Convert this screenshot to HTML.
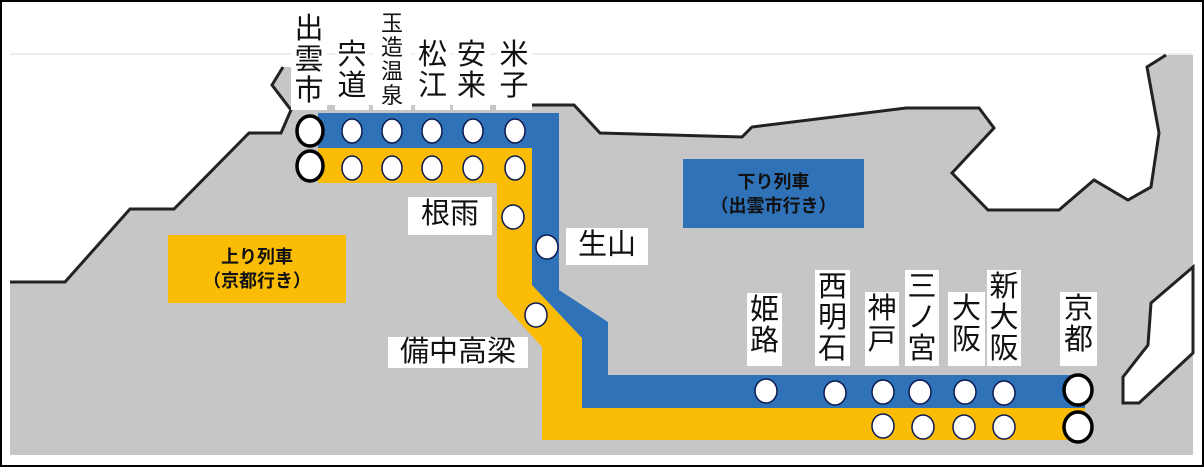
<!DOCTYPE html>
<html><head><meta charset="utf-8"><style>
html,body{margin:0;padding:0;background:#fff}
#w{position:relative;width:1204px;height:467px;overflow:hidden;font-family:"Liberation Sans","Noto Sans CJK JP",sans-serif}
.l{position:absolute;background:#fff;text-align:center;font-size:29px;line-height:31px;color:#111;box-sizing:border-box;padding-top:2px}
.b{position:absolute;font-weight:bold;font-size:18px;line-height:24px;text-align:center;display:flex;align-items:center;justify-content:center;color:#111}
</style></head><body><div id="w">
<svg width="1204" height="467" style="position:absolute;left:0;top:0">
<line x1="10" y1="54" x2="1192" y2="54" stroke="#ddd" stroke-width="1"/>
<polygon fill="#c6c6c6" points="10,282 65,282 130,209 174,209 249,133 281,133 291,110 272,85 283,67 300,67 300,105 532,105 574,105 600,133 742,137 752,127 906,108 979,108 994,128 952,173 988,210 1059,210 1094,180 1128,200 1151,187 1159,133 1147,67 1166,55 1193,55 1193,455 10,455"/>
<polyline fill="none" stroke="#222" stroke-width="3" points="10,282 65,282 130,209 174,209 249,133 281,133 291,110 272,85 283,67"/>
<polyline fill="none" stroke="#222" stroke-width="3" points="532,105 574,105 600,133 742,137 752,127 906,108 979,108 994,128 952,173 988,210 1059,210 1094,180 1128,200 1151,187 1159,133 1147,67 1166,55"/>
<polygon fill="#fff" stroke="#222" stroke-width="3" points="1193,267 1151,303 1148,345 1123,377 1123,403 1139,403 1193,353"/>
<polygon fill="#fbbc06" points="318,148 532,148 532,285 582,338 582,408 1085,408 1085,440 542,440 542,347 497,297 497,183 318,183"/>
<polygon fill="#2f72b8" points="318,113 559,113 559,290 608,322 608,375 1085,375 1085,408 582,408 582,338 532,285 532,148 318,148"/>
<g fill="#fff" stroke="#0d1a50" stroke-width="1.5">
<ellipse cx="352" cy="131" rx="10" ry="12"/><ellipse cx="392" cy="131" rx="10" ry="12"/><ellipse cx="432" cy="131" rx="10" ry="12"/><ellipse cx="473" cy="131" rx="10" ry="12"/><ellipse cx="515" cy="131" rx="10" ry="12"/>
<ellipse cx="352" cy="168" rx="10" ry="12"/><ellipse cx="392" cy="168" rx="10" ry="12"/><ellipse cx="432" cy="168" rx="10" ry="12"/><ellipse cx="473" cy="168" rx="10" ry="12"/><ellipse cx="515" cy="168" rx="10" ry="12"/>
<ellipse cx="513" cy="217" rx="11" ry="12"/><ellipse cx="547" cy="247" rx="11" ry="12"/><ellipse cx="536" cy="315" rx="11" ry="12"/>
<ellipse cx="766" cy="391" rx="11" ry="12"/><ellipse cx="835" cy="393" rx="11" ry="12"/><ellipse cx="883" cy="392" rx="11" ry="12"/><ellipse cx="920" cy="392" rx="11" ry="12"/><ellipse cx="965" cy="392" rx="11" ry="12"/><ellipse cx="1004" cy="393" rx="11" ry="12"/>
<ellipse cx="883" cy="426" rx="11" ry="12"/><ellipse cx="923" cy="427" rx="11" ry="12"/><ellipse cx="964" cy="427" rx="11" ry="12"/><ellipse cx="1004" cy="427" rx="11" ry="12"/>
</g>
<g fill="#fff" stroke="#000" stroke-width="3.5">
<ellipse cx="310" cy="131" rx="13" ry="15"/><ellipse cx="310" cy="166" rx="13" ry="15"/>
<ellipse cx="1078" cy="390" rx="14" ry="15"/><ellipse cx="1078" cy="427" rx="14" ry="15"/>
</g>
<rect x="1" y="1" width="1202" height="465" fill="none" stroke="#000" stroke-width="2"/>
</svg>
<div class="l" style="left:291px;top:12px;width:36px;height:98px">出<br>雲<br>市</div>
<div class="l" style="left:335px;top:33px;width:34px;height:77px;padding-top:7px">宍<br>道</div>
<div class="l" style="left:373px;top:9px;width:38px;height:101px;font-size:22px;line-height:24px;padding-top:3px">玉<br>造<br>温<br>泉</div>
<div class="l" style="left:415px;top:33px;width:35px;height:77px;padding-top:7px">松<br>江</div>
<div class="l" style="left:453px;top:33px;width:37px;height:77px;padding-top:7px">安<br>来</div>
<div class="l" style="left:496px;top:33px;width:36px;height:77px;padding-top:7px">米<br>子</div>
<div class="l" style="left:408px;top:197px;width:84px;height:38px">根雨</div>
<div class="l" style="left:566px;top:228px;width:82px;height:37px">生山</div>
<div class="l" style="left:388px;top:337px;width:140px;height:31px;padding-top:0">備中高梁</div>
<div class="l" style="left:747px;top:293px;width:35px;height:73px">姫<br>路</div>
<div class="l" style="left:815px;top:270px;width:35px;height:96px">西<br>明<br>石</div>
<div class="l" style="left:865px;top:292px;width:34px;height:74px">神<br>戸</div>
<div class="l" style="left:905px;top:270px;width:34px;height:96px">三<br>ノ<br>宮</div>
<div class="l" style="left:948px;top:292px;width:37px;height:74px">大<br>阪</div>
<div class="l" style="left:987px;top:270px;width:34px;height:96px">新<br>大<br>阪</div>
<div class="l" style="left:1060px;top:292px;width:37px;height:74px">京<br>都</div>
<div class="b" style="left:168px;top:235px;width:178px;height:68px;background:#fbbc06">上り列車<br>（京都行き）</div>
<div class="b" style="left:683px;top:159px;width:181px;height:69px;background:#2f72b8">下り列車<br>（出雲市行き）</div>
</div></body></html>
